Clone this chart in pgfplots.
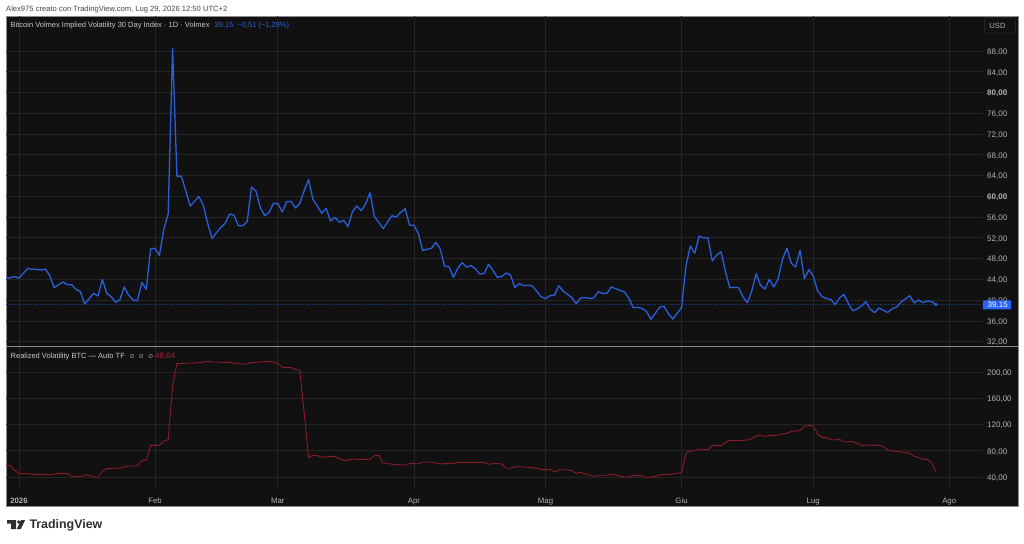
\documentclass[border=0pt]{standalone}
\usepackage{pgfplots}
\pgfplotsset{compat=1.18}
\usepackage{fontspec}
\setmainfont{Liberation Sans}
\newfontfamily\dejavu{DejaVu Sans}
\definecolor{bgc}{HTML}{111112}
\definecolor{gridc}{HTML}{252526}
\definecolor{bluec}{HTML}{2A5FDC}
\definecolor{tagc}{HTML}{2962FF}
\definecolor{redc}{HTML}{8A1C28}
\definecolor{redt}{HTML}{B3202E}
\definecolor{labc}{HTML}{B2B2B4}
\definecolor{legc}{HTML}{C8C8CA}
\definecolor{framec}{HTML}{8A8A8C}
\pgfplotsset{
  tvaxis/.style={
    scale only axis, width=977pt,
    axis line style={draw=none}, tick style={draw=none},
    grid=major, grid style={gridc, line width=0.8pt},
    xmin=-2.96, xmax=219.7,
    xtick={0,31,59,90,120,151,181,212},
    yticklabel pos=right,
    yticklabel style={font=\fontsize{8}{9}\selectfont, text=labc, anchor=west, xshift=4pt, yshift=-1pt, inner sep=0pt},
    xticklabel style={font=\fontsize{7.8}{9}\selectfont, text=labc, inner sep=0pt, yshift=-7.5pt},
    clip=true,
  }
}
\begin{document}
\begin{tikzpicture}[x=1pt,y=1pt]
\useasboundingbox (0,0) rectangle (1024,543);
\fill[white] (0,0) rectangle (1024,543);
\fill[bgc] (6,37) rectangle (1018,527);
\draw[framec,line width=0.7pt] (6,37) rectangle (1018,527);

\begin{axis}[tvaxis, at={(6pt,197pt)}, anchor=south west, height=330pt,
  ymin=31.17, ymax=94.75,
  xticklabels={},
  ytick={32,36,40,44,48,52,56,60,64,68,72,76,80,84,88},
  yticklabels={32{,}00,36{,}00,40{,}00,44{,}00,48{,}00,52{,}00,56{,}00,\textbf{60{,}00},64{,}00,68{,}00,72{,}00,76{,}00,\textbf{80{,}00},84{,}00,88{,}00},
]
\addplot[bluec!45!bgc, densely dotted, line width=0.7pt, forget plot] coordinates {(-3,39.15) (220,39.15)};
\addplot[bluec, line width=1.3pt, line join=round] table {
-3 44.14
-2 44.33
-1 44.53
0 44.27
1 45.17
2 46.13
3 45.94
4 45.94
5 45.81
6 46.00
7 44.78
8 42.41
9 42.98
10 43.50
11 42.98
12 42.98
13 42.09
14 41.64
15 39.26
16 40.29
17 41.31
18 40.80
19 44.01
20 41.31
21 40.67
22 39.58
23 40.09
24 42.54
25 40.93
26 40.03
27 39.90
28 43.43
29 42.09
30 49.92
31 49.99
32 48.64
33 53.65
34 56.60
35 88.45
36 63.90
37 63.90
38 61.10
39 58.14
40 59.04
41 59.94
42 58.34
43 54.80
44 51.91
45 53.00
46 54.03
47 54.80
48 56.60
49 56.41
50 54.35
51 54.35
52 55.12
53 61.80
54 61.03
55 57.82
56 56.28
57 56.92
58 58.66
59 58.59
60 56.99
61 58.98
62 59.04
63 57.76
64 58.66
65 61.10
66 63.22
67 59.36
68 58.14
69 56.73
70 57.69
71 55.25
72 55.96
73 55.00
74 55.38
75 54.16
76 57.05
77 58.14
78 57.24
79 58.53
80 60.71
81 56.09
82 55.00
83 53.78
84 55.06
85 56.28
86 56.02
87 56.92
88 57.63
89 54.48
90 54.42
91 52.88
92 49.60
93 49.79
94 49.99
95 51.14
96 49.86
97 46.52
98 46.45
99 44.40
100 46.13
101 47.22
102 46.39
103 46.65
104 46.07
105 45.04
106 45.10
107 46.90
108 45.81
109 44.40
110 44.53
111 45.23
112 44.85
113 42.41
114 43.18
115 42.79
116 42.86
117 42.73
118 41.70
119 40.67
120 40.29
121 40.87
122 40.93
123 42.79
124 41.76
125 41.12
126 40.48
127 39.32
128 40.42
129 40.48
130 40.35
131 40.42
132 41.64
133 41.31
134 41.31
135 42.54
136 42.21
137 41.89
138 41.57
139 40.35
140 38.55
141 38.62
142 38.42
143 37.85
144 36.31
145 37.46
146 38.62
147 38.81
148 37.40
149 36.37
150 37.46
151 38.62
152 46.58
153 50.44
154 49.02
155 52.36
156 51.98
157 52.04
158 47.55
159 48.70
160 49.34
161 45.49
162 42.41
163 42.47
164 42.41
165 40.61
166 39.52
167 41.76
168 45.10
169 42.86
170 42.15
171 44.01
172 42.54
173 44.08
174 47.87
175 50.05
176 47.10
177 46.39
178 49.60
179 44.14
180 45.88
181 44.66
182 41.83
183 40.67
184 40.35
185 40.16
186 39.13
187 40.42
188 41.12
189 39.39
190 37.98
191 38.30
192 38.88
193 39.71
194 38.23
195 37.59
196 38.49
197 38.04
198 37.65
199 38.36
200 38.68
201 39.64
202 40.22
203 40.87
204 39.45
205 40.03
206 39.52
207 39.84
208 39.71
209 39.15
};
\addplot[only marks, mark=*, mark size=1.5pt, color=bluec] coordinates {(209,39.15)};
\end{axis}

\begin{axis}[tvaxis, at={(6pt,53pt)}, anchor=south west, height=143pt,
  ymin=20.15, ymax=238.5,
  xticklabels={\textbf{2026},Feb,Mar,Apr,Mag,Giu,Lug,Ago},
  ytick={40,80,120,160,200},
  yticklabels={40{,}00,80{,}00,120{,}00,160{,}00,200{,}00},
]
\addplot[redc, line width=0.9pt, line join=round] table {
-3 57.9
-2 57.3
-1 50.2
0 45.6
1 45.1
2 45.1
3 44.1
4 44.1
5 43.6
6 43.6
7 43.1
8 44.6
9 45.6
10 45.6
11 45.1
12 41.1
13 41.1
14 40.6
15 43.1
16 42.6
17 40.0
18 39.5
19 48.7
20 52.8
21 52.8
22 53.3
23 53.3
24 55.8
25 56.8
26 56.8
27 57.3
28 65.0
29 66.0
30 88.4
31 88.4
32 88.4
33 95.0
34 97.0
35 178.0
36 213.6
37 213.1
38 213.6
39 214.1
40 214.1
41 214.6
42 215.6
43 216.6
44 215.6
45 215.6
46 215.1
47 215.1
48 215.1
49 213.6
50 213.1
51 212.6
52 212.6
53 215.1
54 215.1
55 215.6
56 216.1
57 216.1
58 215.6
59 213.6
60 207.5
61 207.0
62 207.0
63 204.4
64 202.9
65 137.2
66 69.6
67 73.1
68 72.6
69 70.6
70 70.1
71 71.6
72 71.1
73 68.0
74 65.5
75 65.5
76 67.5
77 67.0
78 67.0
79 67.0
80 67.0
81 72.6
82 73.1
83 61.4
84 60.9
85 59.4
86 58.9
87 58.4
88 58.4
89 60.4
90 60.4
91 59.9
92 62.9
93 62.9
94 62.4
95 61.4
96 59.9
97 60.4
98 60.4
99 60.9
100 61.9
101 62.4
102 62.4
103 62.4
104 62.4
105 62.4
106 62.4
107 59.4
108 60.4
109 60.4
110 59.9
111 53.3
112 53.3
113 55.3
114 55.8
115 55.3
116 54.8
117 54.3
118 53.3
119 51.7
120 51.2
121 51.7
122 47.7
123 50.7
124 51.2
125 50.7
126 49.7
127 45.6
128 47.2
129 44.6
130 42.6
131 41.1
132 42.6
133 42.6
134 42.6
135 43.6
136 43.6
137 41.1
138 40.0
139 40.0
140 42.1
141 42.1
142 42.1
143 38.5
144 39.5
145 41.1
146 43.1
147 43.6
148 44.1
149 44.6
150 45.6
151 47.2
152 76.2
153 79.7
154 80.2
155 82.3
156 82.3
157 81.3
158 87.9
159 87.9
160 87.9
161 92.5
162 96.0
163 96.0
164 96.0
165 96.0
166 96.5
167 98.6
168 102.6
169 103.6
170 102.1
171 103.1
172 103.6
173 104.2
174 105.7
175 106.7
176 109.8
177 110.3
178 110.8
179 117.9
180 118.4
181 118.4
182 105.2
183 100.6
184 100.1
185 97.0
186 96.5
187 97.6
188 93.5
189 94.0
190 94.0
191 91.4
192 88.4
193 88.4
194 88.9
195 88.4
196 88.4
197 86.4
198 81.3
199 79.7
200 79.2
201 78.2
202 77.7
203 76.2
204 71.6
205 69.6
206 67.0
207 67.0
208 61.9
209 48.04
};
\end{axis}

% pane divider
\draw[framec,line width=1.4pt] (6,196.5) -- (1018,196.5);

% text
\node[anchor=west,inner sep=0pt,text=black!72,font=\fontsize{7.6}{9}\selectfont] at (6,533.5) {Alex975 creato con TradingView.com, Lug 29, 2026 12:50 UTC+2};
\node[anchor=west,inner sep=0pt,text=legc,font=\fontsize{7.5}{9}\selectfont] at (10.5,517.5) {Bitcoin Volmex Implied Volatility 30 Day Index · 1D · Volmex};
\node[anchor=west,inner sep=0pt,text=bluec,font=\fontsize{7.5}{9}\selectfont] at (214.5,517.5) {39,15\hspace{4pt}−0,51 (−1,29\%)};
\node[anchor=west,inner sep=0pt,text=legc,font=\fontsize{7.5}{9}\selectfont] at (10.5,186.5) {Realized Volatility BTC — Auto TF\hspace{4.7pt}{\dejavu\fontsize{5.5}{7}\selectfont ∅\hspace{4.6pt}∅\hspace{4.6pt}∅}};
\node[anchor=west,inner sep=0pt,text=redt,font=\fontsize{8}{9}\selectfont] at (155,186.5) {48,04};
% USD box
\draw[gridc,line width=0.8pt,fill=bgc,rounded corners=2pt] (984.5,510) rectangle (1015.5,525.5);
\node[inner sep=0pt,text=labc,font=\fontsize{7.6}{9}\selectfont] at (997.5,517.5) {USD};
% last value tag
\fill[tagc,rounded corners=0.5pt] (983,233.5) rectangle (1011,242.5);
\node[anchor=west,inner sep=0pt,text=white,font=\fontsize{8}{9}\selectfont] at (987.5,238) {39,15};
% TradingView logo
\fill[black!82] (7,23) -- (16,23) -- (16,14) -- (11,14) -- (11,19.5) -- (7,19.5) -- cycle;
\fill[black!82] (18.7,21) circle (1.9);
\fill[black!82] (21,23) -- (25.2,23) -- (20.8,14) -- (16.8,14) -- cycle;
\node[anchor=west,inner sep=0pt,text=black!82,font=\fontsize{12.4}{15}\selectfont\bfseries] at (29.3,18) {TradingView};
\end{tikzpicture}
\end{document}
